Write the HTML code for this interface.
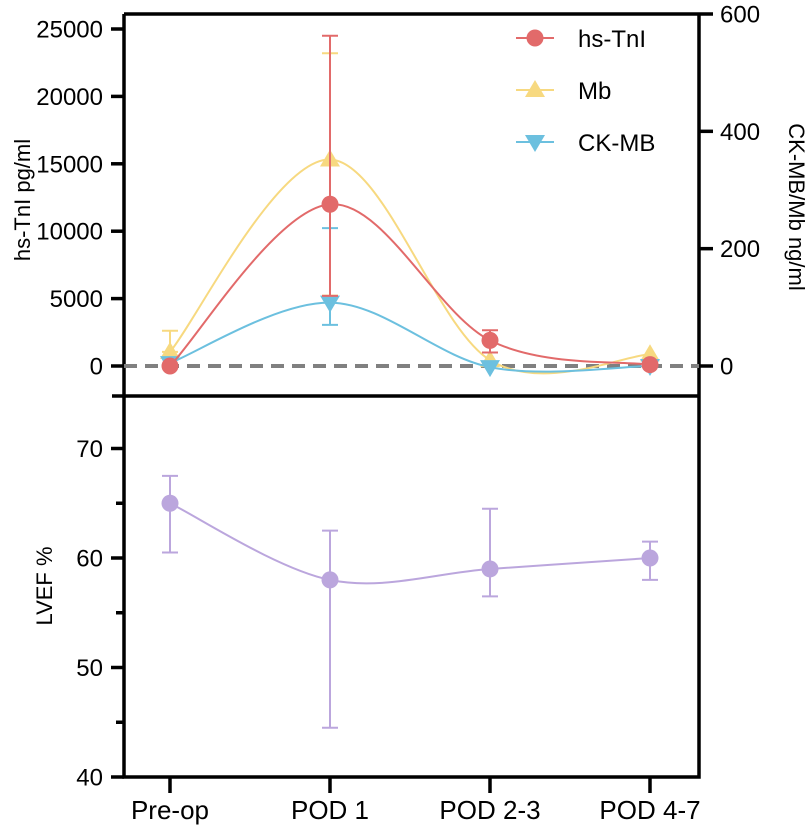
<!DOCTYPE html>
<html><head><meta charset="utf-8"><style>
body{margin:0;background:#fff}
svg{display:block;font-family:"Liberation Sans",Arial,sans-serif}
</style></head><body>
<svg id="c" width="810" height="832" viewBox="0 0 810 832"></svg>
<script>
const categories=["Pre-op","POD 1","POD 2-3","POD 4-7"];
const tniMean=[0,12000,1900,100];
const tniUp=[0,24500,2650,100];
const tniLo=[0,5200,1000,100];
const mbMean=[24,352,10,20];
const mbUp=[60,533,10,20];
const mbLo=[24,120,10,20];
const ckMean=[5,108,-2,0];
const ckUp=[5,235,-2,0];
const ckLo=[5,70,-2,0];
const lvefMean=[65,58,59,60];
const lvefUp=[67.5,62.5,64.5,61.5];
const lvefLo=[60.5,44.5,56.5,58];
const leftTicks=[0,5000,10000,15000,20000,25000];
const rightTicks=[0,200,400,600];
const lvefTicks=[40,50,60,70];

const NS="http://www.w3.org/2000/svg";
const svg=document.getElementById("c");
function el(t,a,p){const e=document.createElementNS(NS,t);for(const k in a)e.setAttribute(k,a[k]);(p||svg).appendChild(e);return e;}
const X=i=>170+i*160;
const yL=v=>366-v*(337/25000);
const yR=v=>366-v*(352/600);
const yE=v=>777-(v-40)*10.95;
const RED="#e26a6a",YEL="#f7d980",BLU="#6cc0df",PUR="#bba6dd";
const L=124,R=699;

function spline(pts){
  let d="M"+pts[0][0]+","+pts[0][1];
  for(let i=0;i<pts.length-1;i++){
    const p0=pts[Math.max(0,i-1)],p1=pts[i],p2=pts[i+1],p3=pts[Math.min(pts.length-1,i+2)];
    const t=1/6;
    const c1=[p1[0]+(p2[0]-p0[0])*t,p1[1]+(p2[1]-p0[1])*t];
    const c2=[p2[0]-(p3[0]-p1[0])*t,p2[1]-(p3[1]-p1[1])*t];
    d+=` C${c1[0]},${c1[1]} ${c2[0]},${c2[1]} ${p2[0]},${p2[1]}`;
  }
  return d;
}
function series(name,mean,up,lo,ys,color,marker){
  const g=el("g",{});
  
  
  mean.forEach((m,i)=>{
    if(up[i]!==m||lo[i]!==m){
      const x=X(i);
      const eb=el("path",{d:`M${x},${ys(up[i])}V${ys(lo[i])}M${x-8},${ys(up[i])}h16M${x-8},${ys(lo[i])}h16`,stroke:color,"stroke-width":2,fill:"none"},g);
      
      
    }
  });
  const ln=el("path",{d:spline(mean.map((m,i)=>[X(i),ys(m)])),stroke:color,"stroke-width":2,fill:"none"},g);
  
  
  mean.forEach((m,i)=>{
    const mk=drawMarker(X(i),ys(m),marker,color,g);
    
    
  });
}
function drawMarker(x,y,type,color,g){
  if(type==="circle")return el("circle",{cx:x,cy:y,r:8.5,fill:color},g);
  if(type==="up")return el("path",{d:`M${x},${y-10}L${x+10},${y+7}L${x-10},${y+7}Z`,fill:color},g);
  return el("path",{d:`M${x},${y+10}L${x+10},${y-7}L${x-10},${y-7}Z`,fill:color},g);
}
function text(s,x,y,anchor,name,extra){
  const t=el("text",Object.assign({x:x,y:y,"text-anchor":anchor,"font-size":24,fill:"#000"},extra||{}));
  t.textContent=s;
  
  
  return t;
}

const frame=el("path",{d:`M${L},14V777H${R}V14M${L},14H${R}M112,396H${R}`,stroke:"#000","stroke-width":3.5,fill:"none"});



leftTicks.forEach(v=>{
  const tk=el("path",{d:`M111,${yL(v)}H${L}`,stroke:"#000","stroke-width":3.5});
  
  
  text(String(v),103,yL(v)+8.5,"end","left-y-tick-label");
});
rightTicks.forEach(v=>{
  const tk=el("path",{d:`M${R},${yR(v)}H713`,stroke:"#000","stroke-width":3.5});
  
  
  text(String(v),720,yR(v)+8.5,"start","right-y-tick-label");
});
for(let v=40;v<=70;v+=5){
  const major=lvefTicks.includes(v);
  const tk=el("path",{d:`M${major?111:116},${yE(v)}H${L}`,stroke:"#000","stroke-width":3.5});
  
  
}
lvefTicks.forEach(v=>text(String(v),103,yE(v)+8.5,"end","lvef-y-tick-label"));
categories.forEach((c,i)=>{
  const tk=el("path",{d:`M${X(i)},777V793`,stroke:"#000","stroke-width":3.5});
  
  
  text(c,X(i),819,"middle","x-tick-label",{"font-size":26});
});

const zl=el("path",{d:`M${L},366H${R}`,stroke:"#808080","stroke-width":4,"stroke-dasharray":"13,8"});



series("mb",mbMean,mbUp,mbLo,yR,YEL,"up");
series("ck-mb",ckMean,ckUp,ckLo,yR,BLU,"down");
series("hs-tni",tniMean,tniUp,tniLo,yL,RED,"circle");
series("lvef",lvefMean,lvefUp,lvefLo,yE,PUR,"circle");

text("hs-TnI pg/ml",0,0,"middle","left-y-axis-title",{transform:"translate(30,200) rotate(-90)","font-size":22});
text("CK-MB/Mb ng/ml",0,0,"middle","right-y-axis-title",{transform:"translate(789,207) rotate(90)","font-size":22});
text("LVEF %",0,0,"middle","lvef-y-axis-title",{transform:"translate(52,586) rotate(-90)","font-size":22});

const leg=[["hs-TnI",RED,"circle",38],["Mb",YEL,"up",90],["CK-MB",BLU,"down",142]];
leg.forEach(l=>{
  const g=el("g",{});
  
  
  el("path",{d:`M516,${l[3]}H554`,stroke:l[1],"stroke-width":2},g);
  drawMarker(535,l[3],l[2],l[1],g);
  const t=el("text",{x:578,y:l[3]+9,"font-size":24,fill:"#000"},g);
  t.textContent=l[0];
});
</script>
</body></html>
